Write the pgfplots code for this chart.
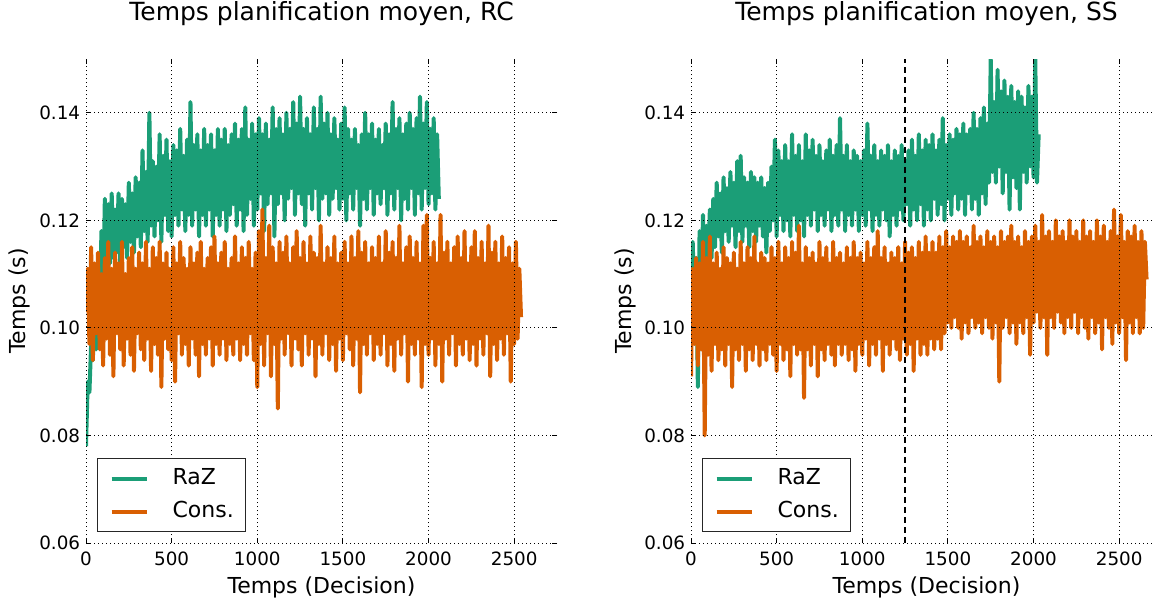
\documentclass[border=0pt]{standalone}
\usepackage{pgfplots}
\usepackage{pgfplotstable}
\pgfplotsset{compat=1.18}
\usepackage{fontspec}
\setmainfont{DejaVu Sans}
\definecolor{razc}{HTML}{1B9E77}
\definecolor{consc}{HTML}{D95F02}

\pgfplotstableread[row sep=\\]{
x y\\
0 .078\\10 .090\\20 .088\\30 .097\\40 .094\\50 .105\\60 .096\\70 .112\\80 .100\\90 .118\\
100 .106\\110 .124\\120 .110\\130 .123\\140 .112\\150 .125\\160 .113\\170 .122\\180 .114\\190 .125\\
200 .112\\210 .124\\220 .115\\230 .123\\240 .113\\250 .127\\260 .116\\270 .125\\280 .114\\290 .128\\
300 .117\\310 .127\\320 .115\\330 .133\\340 .118\\350 .129\\360 .116\\370 .140\\380 .119\\390 .131\\
400 .117\\410 .130\\420 .120\\430 .136\\440 .116\\450 .132\\460 .121\\470 .135\\480 .118\\490 .131\\
500 .117\\510 .134\\520 .121\\530 .133\\540 .119\\550 .137\\560 .122\\570 .132\\580 .118\\590 .135\\
600 .121\\610 .142\\620 .119\\630 .134\\640 .122\\650 .136\\660 .117\\670 .133\\680 .121\\690 .137\\
700 .119\\710 .134\\720 .122\\730 .136\\740 .117\\750 .133\\760 .121\\770 .137\\780 .119\\790 .135\\
800 .122\\810 .137\\820 .118\\830 .134\\840 .121\\850 .136\\860 .123\\870 .138\\880 .119\\890 .135\\
900 .122\\910 .137\\920 .118\\930 .141\\940 .121\\950 .135\\960 .124\\970 .138\\980 .119\\990 .136\\
1000 .122\\1010 .139\\1020 .125\\1030 .136\\1040 .118\\1050 .138\\1060 .123\\1070 .135\\1080 .125\\1090 .141\\
1100 .117\\1110 .137\\1120 .123\\1130 .139\\1140 .125\\1150 .136\\1160 .120\\1170 .140\\1180 .124\\1190 .137\\
1200 .126\\1210 .142\\1220 .121\\1230 .138\\1240 .125\\1250 .143\\1260 .123\\1270 .137\\1280 .119\\1290 .139\\
1300 .125\\1310 .136\\1320 .122\\1330 .141\\1340 .126\\1350 .137\\1360 .120\\1370 .143\\1380 .124\\1390 .138\\
1400 .125\\1410 .140\\1420 .121\\1430 .136\\1440 .124\\1450 .139\\1460 .126\\1470 .135\\1480 .122\\1490 .138\\
1500 .124\\1510 .141\\1520 .120\\1530 .137\\1540 .125\\1550 .135\\1560 .122\\1570 .137\\1580 .126\\1590 .134\\
1600 .119\\1610 .136\\1620 .124\\1630 .140\\1640 .122\\1650 .136\\1660 .126\\1670 .138\\1680 .121\\1690 .135\\
1700 .125\\1710 .137\\1720 .123\\1730 .134\\1740 .126\\1750 .138\\1760 .121\\1770 .136\\1780 .125\\1790 .142\\
1800 .122\\1810 .137\\1820 .126\\1830 .139\\1840 .120\\1850 .136\\1860 .124\\1870 .138\\1880 .122\\1890 .140\\
1900 .126\\1910 .137\\1920 .121\\1930 .139\\1940 .125\\1950 .143\\1960 .122\\1970 .138\\1980 .126\\1990 .142\\
2000 .123\\2010 .137\\2020 .125\\2030 .139\\2040 .122\\2050 .136\\2060 .124\\
}\rcraz

\pgfplotstableread[row sep=\\]{
x y\\
0 .103\\10 .111\\20 .097\\30 .115\\40 .094\\50 .112\\60 .099\\70 .114\\80 .096\\90 .110\\
100 .093\\110 .113\\120 .098\\130 .116\\140 .095\\150 .111\\160 .091\\170 .114\\180 .099\\190 .112\\
200 .096\\210 .116\\220 .093\\230 .110\\240 .098\\250 .113\\260 .095\\270 .115\\280 .092\\290 .111\\
300 .099\\310 .114\\320 .096\\330 .112\\340 .094\\350 .116\\360 .098\\370 .111\\380 .092\\390 .115\\
400 .097\\410 .113\\420 .095\\430 .116\\440 .089\\450 .112\\460 .098\\470 .114\\480 .096\\490 .111\\
500 .094\\510 .115\\520 .090\\530 .112\\540 .099\\550 .116\\560 .095\\570 .113\\580 .097\\590 .111\\
600 .093\\610 .115\\620 .098\\630 .112\\640 .095\\650 .114\\660 .091\\670 .116\\680 .097\\690 .111\\
700 .095\\710 .113\\720 .098\\730 .115\\740 .093\\750 .117\\760 .097\\770 .112\\780 .095\\790 .114\\
800 .098\\810 .116\\820 .094\\830 .111\\840 .097\\850 .113\\860 .095\\870 .117\\880 .098\\890 .112\\
900 .094\\910 .115\\920 .097\\930 .113\\940 .095\\950 .116\\960 .099\\970 .111\\980 .094\\990 .114\\
1000 .089\\1010 .118\\1020 .097\\1030 .122\\1040 .093\\1050 .113\\1060 .099\\1070 .119\\1080 .091\\1090 .115\\
1100 .097\\1110 .112\\1120 .085\\1130 .116\\1140 .098\\1150 .114\\1160 .095\\1170 .117\\1180 .099\\1190 .112\\
1200 .093\\1210 .115\\1220 .098\\1230 .118\\1240 .096\\1250 .113\\1260 .093\\1270 .116\\1280 .099\\1290 .112\\
1300 .095\\1310 .117\\1320 .098\\1330 .114\\1340 .091\\1350 .113\\1360 .097\\1370 .119\\1380 .095\\1390 .112\\
1400 .099\\1410 .115\\1420 .094\\1430 .113\\1440 .097\\1450 .117\\1460 .092\\1470 .112\\1480 .098\\1490 .114\\
1500 .094\\1510 .116\\1520 .099\\1530 .112\\1540 .096\\1550 .117\\1560 .093\\1570 .113\\1580 .098\\1590 .118\\
1600 .088\\1610 .114\\1620 .097\\1630 .116\\1640 .095\\1650 .112\\1660 .099\\1670 .115\\1680 .094\\1690 .113\\
1700 .097\\1710 .117\\1720 .095\\1730 .112\\1740 .099\\1750 .118\\1760 .093\\1770 .114\\1780 .097\\1790 .116\\
1800 .092\\1810 .113\\1820 .098\\1830 .119\\1840 .095\\1850 .112\\1860 .099\\1870 .115\\1880 .090\\1890 .117\\
1900 .097\\1910 .113\\1920 .095\\1930 .116\\1940 .098\\1950 .112\\1960 .089\\1970 .119\\1980 .097\\1990 .121\\
2000 .095\\2010 .113\\2020 .098\\2030 .116\\2040 .093\\2050 .112\\2060 .097\\2070 .121\\2080 .090\\2090 .114\\
2100 .098\\2110 .116\\2120 .095\\2130 .112\\2140 .099\\2150 .115\\2160 .093\\2170 .117\\2180 .097\\2190 .113\\
2200 .095\\2210 .118\\2220 .098\\2230 .112\\2240 .094\\2250 .115\\2260 .097\\2270 .118\\2280 .093\\2290 .113\\
2300 .098\\2310 .116\\2320 .095\\2330 .112\\2340 .099\\2350 .119\\2360 .091\\2370 .114\\2380 .097\\2390 .116\\
2400 .094\\2410 .112\\2420 .098\\2430 .117\\2440 .095\\2450 .113\\2460 .099\\2470 .115\\2480 .090\\2490 .112\\
2500 .097\\2510 .116\\2520 .098\\2530 .111\\2540 .102\\
}\rccons

\pgfplotstableread[row sep=\\]{
x y\\
0 .110\\10 .116\\20 .104\\30 .113\\40 .089\\50 .118\\60 .105\\70 .121\\80 .108\\90 .119\\
100 .111\\110 .122\\120 .113\\130 .124\\140 .115\\150 .127\\160 .117\\170 .125\\180 .114\\190 .128\\
200 .118\\210 .126\\220 .116\\230 .129\\240 .119\\250 .127\\260 .115\\270 .131\\280 .118\\290 .132\\
300 .116\\310 .128\\320 .119\\330 .127\\340 .115\\350 .129\\360 .118\\370 .128\\380 .116\\390 .127\\
400 .119\\410 .128\\420 .117\\430 .126\\440 .114\\450 .127\\460 .118\\470 .130\\480 .120\\490 .135\\
500 .117\\510 .133\\520 .121\\530 .131\\540 .118\\550 .134\\560 .120\\570 .131\\580 .117\\590 .136\\
600 .121\\610 .132\\620 .118\\630 .134\\640 .120\\650 .131\\660 .117\\670 .136\\680 .121\\690 .133\\
700 .119\\710 .135\\720 .122\\730 .132\\740 .118\\750 .134\\760 .121\\770 .131\\780 .119\\790 .133\\
800 .122\\810 .135\\820 .118\\830 .132\\840 .121\\850 .134\\860 .119\\870 .139\\880 .122\\890 .132\\
900 .118\\910 .134\\920 .121\\930 .131\\940 .119\\950 .133\\960 .122\\970 .132\\980 .118\\990 .131\\
1000 .121\\1010 .133\\1020 .119\\1030 .138\\1040 .122\\1050 .132\\1060 .118\\1070 .134\\1080 .121\\1090 .131\\
1100 .119\\1110 .133\\1120 .122\\1130 .132\\1140 .120\\1150 .134\\1160 .117\\1170 .131\\1180 .121\\1190 .133\\
1200 .119\\1210 .132\\1220 .122\\1230 .134\\1240 .120\\1250 .131\\1260 .123\\1270 .133\\1280 .119\\1290 .135\\
1300 .122\\1310 .132\\1320 .120\\1330 .136\\1340 .123\\1350 .133\\1360 .119\\1370 .135\\1380 .122\\1390 .134\\
1400 .120\\1410 .136\\1420 .124\\1430 .133\\1440 .121\\1450 .135\\1460 .123\\1470 .139\\1480 .120\\1490 .134\\
1500 .124\\1510 .136\\1520 .121\\1530 .135\\1540 .125\\1550 .137\\1560 .122\\1570 .136\\1580 .124\\1590 .138\\
1600 .121\\1610 .136\\1620 .125\\1630 .137\\1640 .122\\1650 .140\\1660 .124\\1670 .137\\1680 .121\\1690 .139\\
1700 .125\\1710 .141\\1720 .123\\1730 .138\\1740 .127\\1750 .150\\1760 .129\\1770 .142\\1780 .127\\1790 .148\\
1800 .130\\1810 .144\\1820 .125\\1830 .146\\1840 .129\\1850 .143\\1860 .122\\1870 .145\\1880 .128\\1890 .142\\
1900 .126\\1910 .144\\1920 .122\\1930 .143\\1940 .129\\1950 .141\\1960 .127\\1970 .145\\1980 .130\\1990 .143\\
2000 .128\\2010 .150\\2020 .127\\2030 .136\\
}\ssraz

\pgfplotstableread[row sep=\\]{
x y\\
0 .091\\10 .111\\20 .097\\30 .113\\40 .093\\50 .112\\60 .096\\70 .116\\80 .080\\90 .113\\
100 .095\\110 .117\\120 .092\\130 .112\\140 .097\\150 .114\\160 .094\\170 .111\\180 .096\\190 .115\\
200 .093\\210 .113\\220 .097\\230 .112\\240 .089\\250 .114\\260 .096\\270 .111\\280 .094\\290 .116\\
300 .097\\310 .112\\320 .092\\330 .115\\340 .096\\350 .113\\360 .094\\370 .117\\380 .097\\390 .112\\
400 .093\\410 .114\\420 .096\\430 .113\\440 .094\\450 .112\\460 .097\\470 .115\\480 .095\\490 .113\\
500 .092\\510 .116\\520 .097\\530 .112\\540 .094\\550 .115\\560 .096\\570 .113\\580 .091\\590 .116\\
600 .097\\610 .114\\620 .095\\630 .119\\640 .096\\650 .112\\660 .087\\670 .115\\680 .096\\690 .113\\
700 .093\\710 .114\\720 .097\\730 .112\\740 .091\\750 .116\\760 .096\\770 .113\\780 .094\\790 .115\\
800 .097\\810 .112\\820 .095\\830 .116\\840 .093\\850 .113\\860 .097\\870 .114\\880 .095\\890 .112\\
900 .097\\910 .115\\920 .094\\930 .113\\940 .096\\950 .116\\960 .092\\970 .113\\980 .097\\990 .114\\
1000 .095\\1010 .112\\1020 .098\\1030 .116\\1040 .093\\1050 .113\\1060 .097\\1070 .115\\1080 .095\\1090 .118\\
1100 .098\\1110 .113\\1120 .092\\1130 .115\\1140 .097\\1150 .112\\1160 .095\\1170 .114\\1180 .098\\1190 .113\\
1200 .096\\1210 .115\\1220 .094\\1230 .112\\1240 .098\\1250 .116\\1260 .095\\1270 .114\\1280 .097\\1290 .115\\
1300 .092\\1310 .113\\1320 .098\\1330 .116\\1340 .095\\1350 .114\\1360 .097\\1370 .117\\1380 .095\\1390 .114\\
1400 .098\\1410 .116\\1420 .096\\1430 .114\\1440 .098\\1450 .117\\1460 .096\\1470 .115\\1480 .099\\1490 .118\\
1500 .101\\1510 .115\\1520 .100\\1530 .117\\1540 .102\\1550 .116\\1560 .100\\1570 .118\\1580 .098\\1590 .116\\
1600 .101\\1610 .117\\1620 .099\\1630 .115\\1640 .102\\1650 .119\\1660 .100\\1670 .116\\1680 .101\\1690 .117\\
1700 .099\\1710 .115\\1720 .102\\1730 .118\\1740 .100\\1750 .116\\1760 .098\\1770 .117\\1780 .101\\1790 .115\\
1800 .090\\1810 .118\\1820 .100\\1830 .116\\1840 .102\\1850 .117\\1860 .099\\1870 .119\\1880 .101\\1890 .116\\
1900 .097\\1910 .117\\1920 .101\\1930 .115\\1940 .099\\1950 .118\\1960 .102\\1970 .116\\1980 .095\\1990 .117\\
2000 .101\\2010 .119\\2020 .103\\2030 .116\\2040 .100\\2050 .121\\2060 .102\\2070 .117\\2080 .095\\2090 .118\\
2100 .102\\2110 .116\\2120 .100\\2130 .120\\2140 .103\\2150 .117\\2160 .101\\2170 .118\\2180 .099\\2190 .116\\
2200 .102\\2210 .120\\2220 .100\\2230 .117\\2240 .103\\2250 .118\\2260 .099\\2270 .116\\2280 .102\\2290 .120\\
2300 .100\\2310 .117\\2320 .098\\2330 .118\\2340 .102\\2350 .116\\2360 .099\\2370 .120\\2380 .101\\2390 .117\\
2400 .096\\2410 .119\\2420 .102\\2430 .116\\2440 .100\\2450 .118\\2460 .097\\2470 .122\\2480 .101\\2490 .117\\
2500 .099\\2510 .121\\2520 .102\\2530 .116\\2540 .094\\2550 .118\\2560 .101\\2570 .117\\2580 .099\\2590 .119\\
2600 .102\\2610 .116\\2620 .099\\2630 .118\\2640 .100\\2650 .116\\2660 .109\\
}\sscons

\pgfplotsset{
  common/.style={
    scale only axis, width=282.6pt, height=290.4pt, anchor=south west,
    xmin=0, xmax=2750, ymin=0.06, ymax=0.15,
    xtick={0,500,1000,1500,2000,2500},
    ytick={0.06,0.08,0.10,0.12,0.14},
    scaled y ticks=false, scaled x ticks=false,
    /pgf/number format/assume math mode=true,
    /pgf/number format/1000 sep={},
    yticklabel style={/pgf/number format/.cd, fixed, fixed zerofill, precision=2},
    ticklabel style={font=\fontsize{11}{13}\selectfont},
    xticklabel style={yshift=-1.7pt},
    axis line style={draw=none},
    tick align=inside, major tick length=3pt,
    tick style={black, line width=0.6pt},
    grid=major, major grid style={black, line width=0.6pt, dash pattern=on 0.8pt off 1.6pt},
    axis on top,
    xlabel={Temps (Decision)}, ylabel={Temps (s)},
    xlabel style={at={(axis description cs:0.5,-0.1033)}, anchor=base, font=\fontsize{13.2}{16}\selectfont},
    ylabel style={at={(axis description cs:-0.1274,0.5)}, anchor=base, font=\fontsize{13.2}{16}\selectfont},
    title style={at={(axis description cs:0.5,1.0585)}, anchor=base, font=\fontsize{15}{18}\selectfont},
    legend cell align=left,
    legend image code/.code={\draw[#1] (0pt,0pt) -- (21pt,0pt);},
    legend style={at={(axis description cs:0.0234,0.0221)}, anchor=south west,
      draw=black!85, line width=0.6pt, fill=white,
      inner xsep=7.2pt, inner ysep=6pt, row sep=7.8pt,
      font=\fontsize{13.2}{16}\selectfont,
      nodes={inner sep=0pt, text height=9.6pt, text depth=2.4pt},
      /tikz/every odd column/.append style={column sep=14.4pt}},
  },
  raz/.style={color=razc, line width=2.4pt, line join=round, no markers},
  cons/.style={color=consc, line width=2.4pt, line join=round, no markers},
}

\begin{document}
\begin{tikzpicture}
\useasboundingbox (0,0) rectangle (691.2pt,359.4pt);
\begin{axis}[common, at={(51.6pt,33.6pt)}, title={Temps planification moyen, RC}]
\addplot[raz] table[x=x,y=y] {\rcraz};
\addlegendentry{RaZ}
\addplot[cons] table[x=x,y=y] {\rccons};
\addlegendentry{Cons.}
\end{axis}
\begin{axis}[common, at={(414.6pt,33.6pt)}, title={Temps planification moyen, SS}]
\addplot[raz] table[x=x,y=y] {\ssraz};
\addlegendentry{RaZ}
\addplot[cons] table[x=x,y=y] {\sscons};
\addlegendentry{Cons.}
\addplot[black, line width=1.5pt, dash pattern=on 3.6pt off 2.4pt, forget plot] coordinates {(1250,0.06) (1250,0.15)};
\end{axis}
\end{tikzpicture}
\end{document}
